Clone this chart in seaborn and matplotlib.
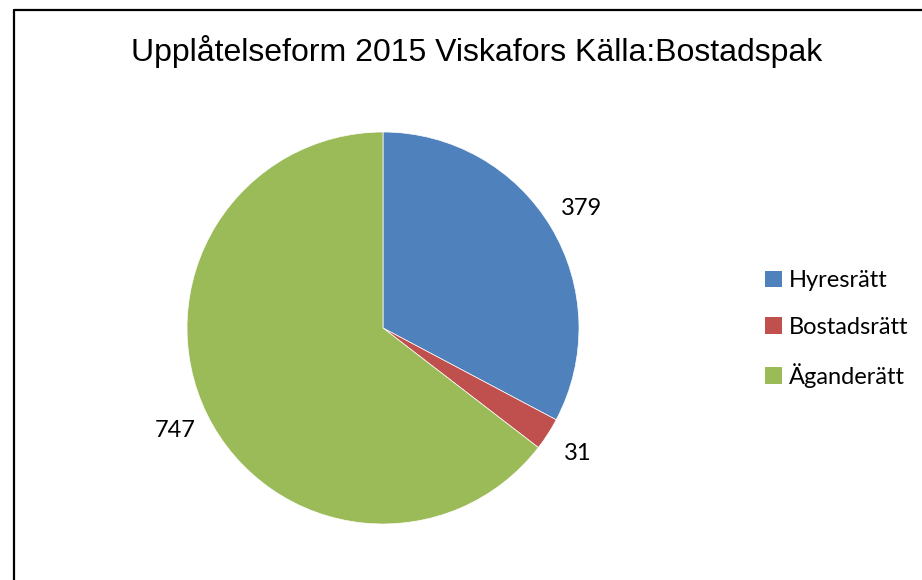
import matplotlib.pyplot as plt
import seaborn as sns
from matplotlib.lines import Line2D
from matplotlib.patches import Patch

categories = ["Hyresrätt", "Bostadsrätt", "Äganderätt"]
values = [379, 31, 747]
colors = ["#4F81BD", "#C0504D", "#9BBB59"]

sns.set_theme(style="white")
plt.rcParams['font.family'] = ['Lato', 'DejaVu Sans']
plt.rcParams['text.color'] = "black"

W, H = 922, 580
fig = plt.figure(figsize=(W / 100, H / 100), dpi=100)

# pie centre and radius in pixels
cx, cy, r = 383, 328, 196
ax = fig.add_axes([(cx - r) / W, (H - cy - r) / H, 2 * r / W, 2 * r / H])
wedges, texts = ax.pie(values, labels=[str(v) for v in values], colors=colors,
                       startangle=90, counterclock=False, labeldistance=1.18,
                       wedgeprops=dict(linewidth=0.5, edgecolor="white"),
                       textprops=dict(fontsize=17, color="black"))
for t in texts:
    t.set_ha("center")
    t.set_va("center")
ax.set_xlim(-1, 1)
ax.set_ylim(-1, 1)
ax.axis("off")

fig.text(477 / W, 1 - 52 / H, "Upplåtelseform 2015 Viskafors Källa:Bostadspak",
         ha="center", va="center", fontsize=23, family="Liberation Sans",
         color="black")

handles = [Patch(facecolor=c, edgecolor="none") for c in colors]
fig.legend(handles, categories, loc="center left",
           bbox_to_anchor=(756 / W, 1 - 329 / H), frameon=False,
           fontsize=17, handlelength=0.7, handleheight=0.7,
           handletextpad=0.3, labelspacing=1.08, borderaxespad=0)

# chart border (right and bottom sides fall outside the picture)
fig.add_artist(Line2D([14 / W, 14 / W], [0, 1 - 10 / H], color="black", lw=1.6))
fig.add_artist(Line2D([14 / W, 1], [1 - 10 / H, 1 - 10 / H], color="black", lw=1.6))

fig.savefig("out.png", dpi=100)
